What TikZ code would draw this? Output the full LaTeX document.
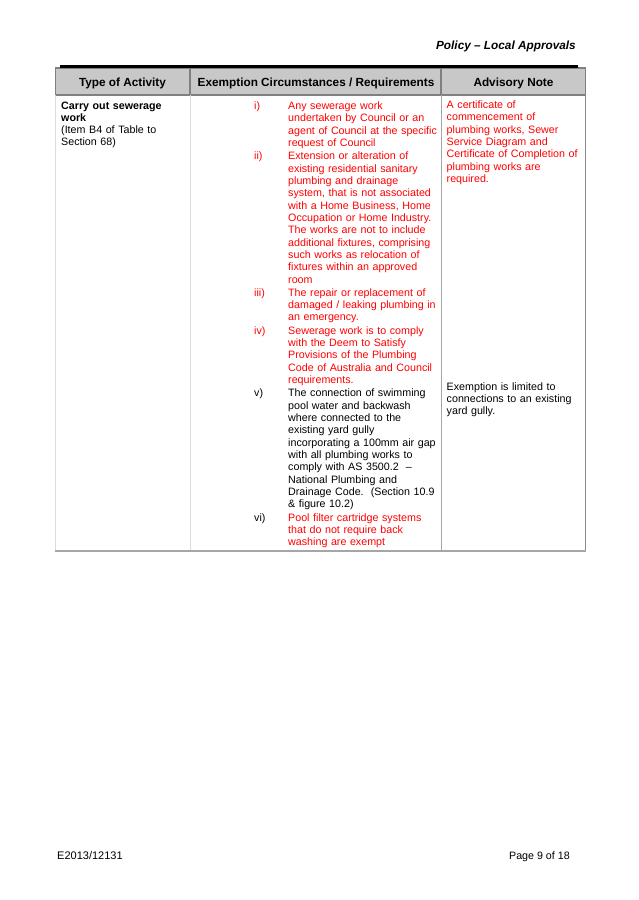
\documentclass[tikz,border=0pt]{standalone}
\usepackage{fontspec}
\setmainfont{Liberation Sans}
\definecolor{txtred}{RGB}{255,0,0}
\definecolor{hdrfill}{RGB}{200,200,200}
\definecolor{hdrline}{RGB}{128,128,128}
\definecolor{lightline}{RGB}{220,220,220}
\definecolor{midline}{RGB}{166,166,166}
\definecolor{darkline}{RGB}{140,140,140}
\tikzset{
  bodytxt/.style={inner sep=0pt, anchor=base west, align=left, text width=#1,
    font=\fontsize{10.7}{12.32}\selectfont},
  bodytxt/.default=160pt,
  hdrtxt/.style={inner sep=0pt, anchor=base, font=\fontsize{11.8}{14}\selectfont\bfseries},
  numtxt/.style={inner sep=0pt, anchor=base west, font=\fontsize{10.7}{12.32}\selectfont},
}
\begin{document}
\begin{tikzpicture}[x=1pt,y=-1pt]
\useasboundingbox (0,0) rectangle (638,900);
\fill[white] (0,0) rectangle (638,900);
% page header
\node[inner sep=0pt, anchor=base east, font=\fontsize{11.8}{14}\selectfont\bfseries\itshape] (title) at (576,49.5) {Policy – Local Approvals};
% table header row
\filldraw[fill=hdrfill, draw=hdrline, line width=1.2pt] (55.5,68) rectangle (585.5,95);
\draw[hdrline, line width=1.8pt] (190,68) -- (190,95);
\draw[hdrline, line width=1.8pt] (441,68) -- (441,95);
\draw[black, line width=2.6pt] (60,66.5) -- (578,66.5);
\node[hdrtxt] (h1) at (122.5,86.8) {Type of Activity};
\node[hdrtxt] (h2) at (316,86.8) {Exemption Circumstances / Requirements};
\node[hdrtxt] (h3) at (513.5,86.8) {Advisory Note};
% body borders
\draw[lightline, line width=0.9pt] (55.5,95) -- (55.5,550);
\draw[lightline, line width=0.9pt] (190,95) -- (190,550);
\draw[midline, line width=1pt] (441,95) -- (441,550);
\draw[darkline, line width=1.4pt] (585.3,95) -- (585.3,551);
\draw[midline, line width=2pt] (55,550.8) -- (586,550.8);
% column 1
\node[bodytxt=125pt] (act) at (61,109) {\textbf{Carry out sewerage}\\\textbf{work}\\(Item B4 of Table to\\Section 68)};
% column 2 numerals
\node[numtxt, txtred] (n1) at (254,109.5) {i)};
\node[numtxt, txtred] (n2) at (254,159.8) {ii)};
\node[numtxt, txtred] (n3) at (254,296.3) {iii)};
\node[numtxt, txtred] (n4) at (254,334.3) {iv)};
\node[numtxt, black] (n5) at (254,396.9) {v)};
\node[numtxt, black] (n6) at (254,521.1) {vi)};
% column 2 texts
\node[bodytxt, txtred] (t1) at (288,109.5) {Any sewerage work\\undertaken by Council or an\\agent of Council at the specific\\request of Council};
\node[bodytxt, txtred] (t2) at (288,159.8) {Extension or alteration of\\existing residential sanitary\\plumbing and drainage\\system, that is not associated\\with a Home Business, Home\\Occupation or Home Industry.\\The works are not to include\\additional fixtures, comprising\\such works as relocation of\\fixtures within an approved\\room};
\node[bodytxt, txtred] (t3) at (288,296.3) {The repair or replacement of\\damaged / leaking plumbing in\\an emergency.};
\node[bodytxt, txtred] (t4) at (288,334.3) {Sewerage work is to comply\\with the Deem to Satisfy\\Provisions of the Plumbing\\Code of Australia and Council\\requirements.};
\node[bodytxt, black] (t5) at (288,396.9) {The connection of swimming\\pool water and backwash\\where connected to the\\existing yard gully\\incorporating a 100mm air gap\\with all plumbing works to\\comply with AS 3500.2\ \ –\\National Plumbing and\\Drainage Code.\ \ (Section 10.9\\\& figure 10.2)};
\node[bodytxt, txtred] (t6) at (288,521.1) {Pool filter cartridge systems\\that do not require back\\washing are exempt};
% column 3
\node[bodytxt=140pt, txtred] (adv1) at (446.5,108.5) {A certificate of\\commencement of\\plumbing works, Sewer\\Service Diagram and\\Certificate of Completion of\\plumbing works are\\required.};
\node[bodytxt=140pt, black] (adv2) at (446.5,390) {Exemption is limited to\\connections to an existing\\yard gully.};
% footer
\node[inner sep=0pt, anchor=base west, font=\fontsize{11}{13}\selectfont] (docid) at (57,859.5) {E2013/12131};
\node[inner sep=0pt, anchor=base east, font=\fontsize{10.7}{12.32}\selectfont] (pageno) at (570,859.5) {Page 9 of 18};
\end{tikzpicture}
\end{document}
